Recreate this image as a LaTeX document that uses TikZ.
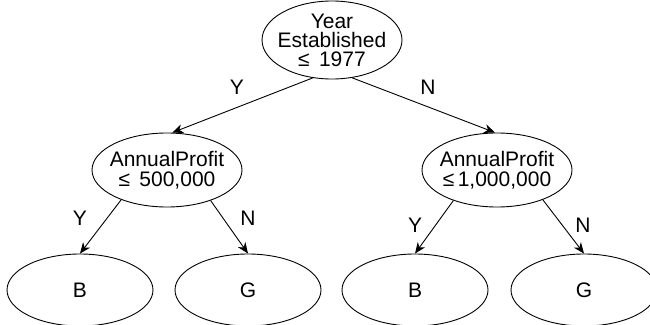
\documentclass[tikz,border=0pt]{standalone}
\usepackage{fontspec}
\setmainfont{Liberation Sans}
\usetikzlibrary{arrows.meta,shapes.geometric}
\begin{document}
\begin{tikzpicture}[x=1pt,y=-1pt,
  every node/.style={font=\fontsize{21}{19}\selectfont},
  oval/.style={draw,line width=0.9pt,ellipse,minimum width=#1,inner sep=0pt},
  words/.style={align=center,inner sep=0pt},
  branch/.style={line width=0.9pt,-{Stealth[length=11pt,width=9pt,inset=3.5pt]}},
  tag/.style={inner sep=0pt}]
  \useasboundingbox (0,0) rectangle (650,324);
  % root test
  \node[oval=140pt,minimum height=78pt] (root) at (332,40) {};
  \node[words] (rootText) at (root.center) {Year\\Established\\≤ \,1977};
  % second level tests
  \node[oval=150pt,minimum height=74pt] (left) at (167,170) {};
  \node[words,font=\fontsize{21}{20}\selectfont] (leftText) at (left.center)
    {AnnualProfit\\≤ \,500,000};
  \node[oval=150pt,minimum height=74pt] (right) at (497,170) {};
  \node[words,font=\fontsize{21}{20}\selectfont] (rightText) at (right.center)
    {AnnualProfit\\≤\,1,000,000};
  % leaves
  \node[oval=146pt,minimum height=72pt] (l1) at (80,290) {B};
  \node[oval=146pt,minimum height=72pt] (l2) at (248,290) {G};
  \node[oval=146pt,minimum height=72pt] (l3) at (415,290) {B};
  \node[oval=146pt,minimum height=72pt] (l4) at (584,290) {G};
  % branches
  \draw[branch] (root.243) -- (left.82);
  \draw[branch] (root.298) -- (right.93);
  \draw[branch] (left.213) -- (l1.north);
  \draw[branch] (left.325) -- (l2.north);
  \draw[branch] (right.215) -- (l3.north);
  \draw[branch] (right.327) -- (l4.north);
  % branch labels
  \node[tag] (y0) at (237,87) {Y};
  \node[tag] (n0) at (428,87) {N};
  \node[tag] (y1) at (80,218) {Y};
  \node[tag] (n1) at (248,218) {N};
  \node[tag] (y2) at (415,225) {Y};
  \node[tag] (n2) at (583,225) {N};
\end{tikzpicture}
\end{document}
